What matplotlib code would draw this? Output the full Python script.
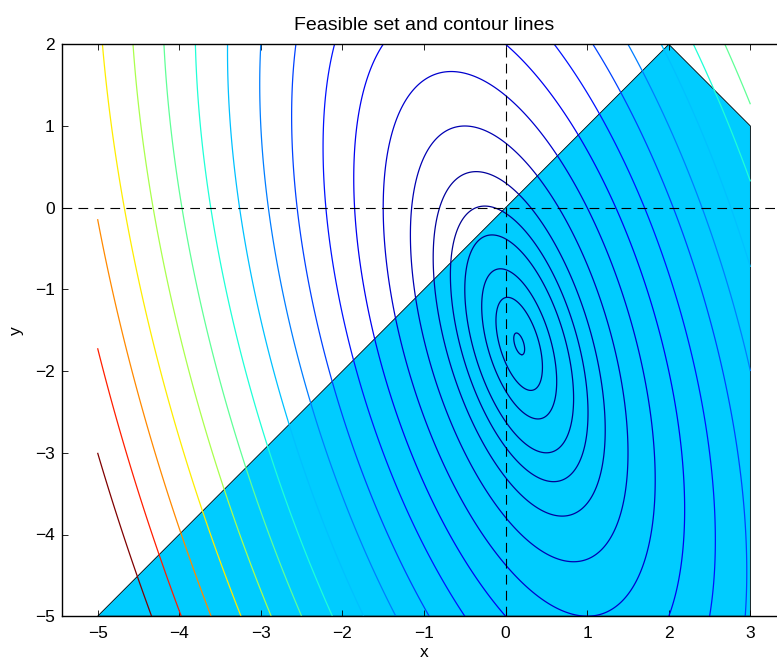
import numpy as np
import matplotlib
matplotlib.use("Agg")
import matplotlib.pyplot as plt
from matplotlib.patches import Polygon
from matplotlib.colors import Normalize

plt.rcParams['font.family'] = ['Liberation Sans', 'DejaVu Sans']
plt.rcParams['lines.scale_dashes'] = False

# objective f(x,y) = a*x^2 + b*x*y + c*y^2 + d*x + e*y
quad_coef = [4.0, 2.0, 1.0, 2.0, 3.0]
# contour levels
levels = [-2.32, -2.09, -1.70, -1.0, -0.2, 1, 3, 6, 10, 15, 21, 28, 36,
          45, 55, 66, 78, 91, 105, 120]
# grid extent of the contour computation
x_range = [-5, 3]
y_range = [-5, 2]
# feasible set vertices
feas_x = [-5, 2, 3, 3]
feas_y = [-5, 2, 1, -5]

W, H = 777, 661
fig = plt.figure(figsize=(W / 100, H / 100), dpi=100)
left_px, right_px, top_px, bot_px = 61.7, 786.3, 44.3, 616.2
ax = fig.add_axes([left_px / W, 1 - bot_px / H,
                   (right_px - left_px) / W, (bot_px - top_px) / H])

xs = np.linspace(x_range[0], x_range[1], 801)
ys = np.linspace(y_range[0], y_range[1], 701)
X, Y = np.meshgrid(xs, ys)
a, b, c, d, e = quad_coef
Z = a * X**2 + b * X * Y + c * Y**2 + d * X + e * Y

poly = Polygon(np.column_stack([feas_x, feas_y]), closed=True,
               facecolor='#00CCFF', edgecolor='black', linewidth=0.6, zorder=1)
ax.add_patch(poly)

ax.contour(X, Y, Z, levels=levels, cmap='jet',
           norm=Normalize(vmin=levels[0], vmax=levels[-1]),
           linewidths=0.9, zorder=2)

ax.axhline(0, color='black', linestyle=(0, (7, 4.5)), linewidth=0.8, zorder=3)
ax.axvline(0, color='black', linestyle=(0, (7, 4.5)), linewidth=0.8, zorder=3)

ax.set_xlim(-5.44, 3.44)
ax.set_ylim(-5, 2)
ax.set_xticks(range(-5, 4))
ax.set_yticks(range(-5, 3))
ax.tick_params(direction='in', top=True, right=True, length=4, width=0.6,
               labelsize=12.5)
ax.tick_params(axis='x', pad=7)
ax.tick_params(axis='y', pad=5)
for s in ax.spines.values():
    s.set_linewidth(1.0)

ax.set_title('Feasible set and contour lines', fontsize=14, pad=10)
ax.set_xlabel('x', fontsize=12.5, labelpad=3)
ax.set_ylabel('y', fontsize=12.5, labelpad=8)

fig.savefig('out.png', dpi=100)
